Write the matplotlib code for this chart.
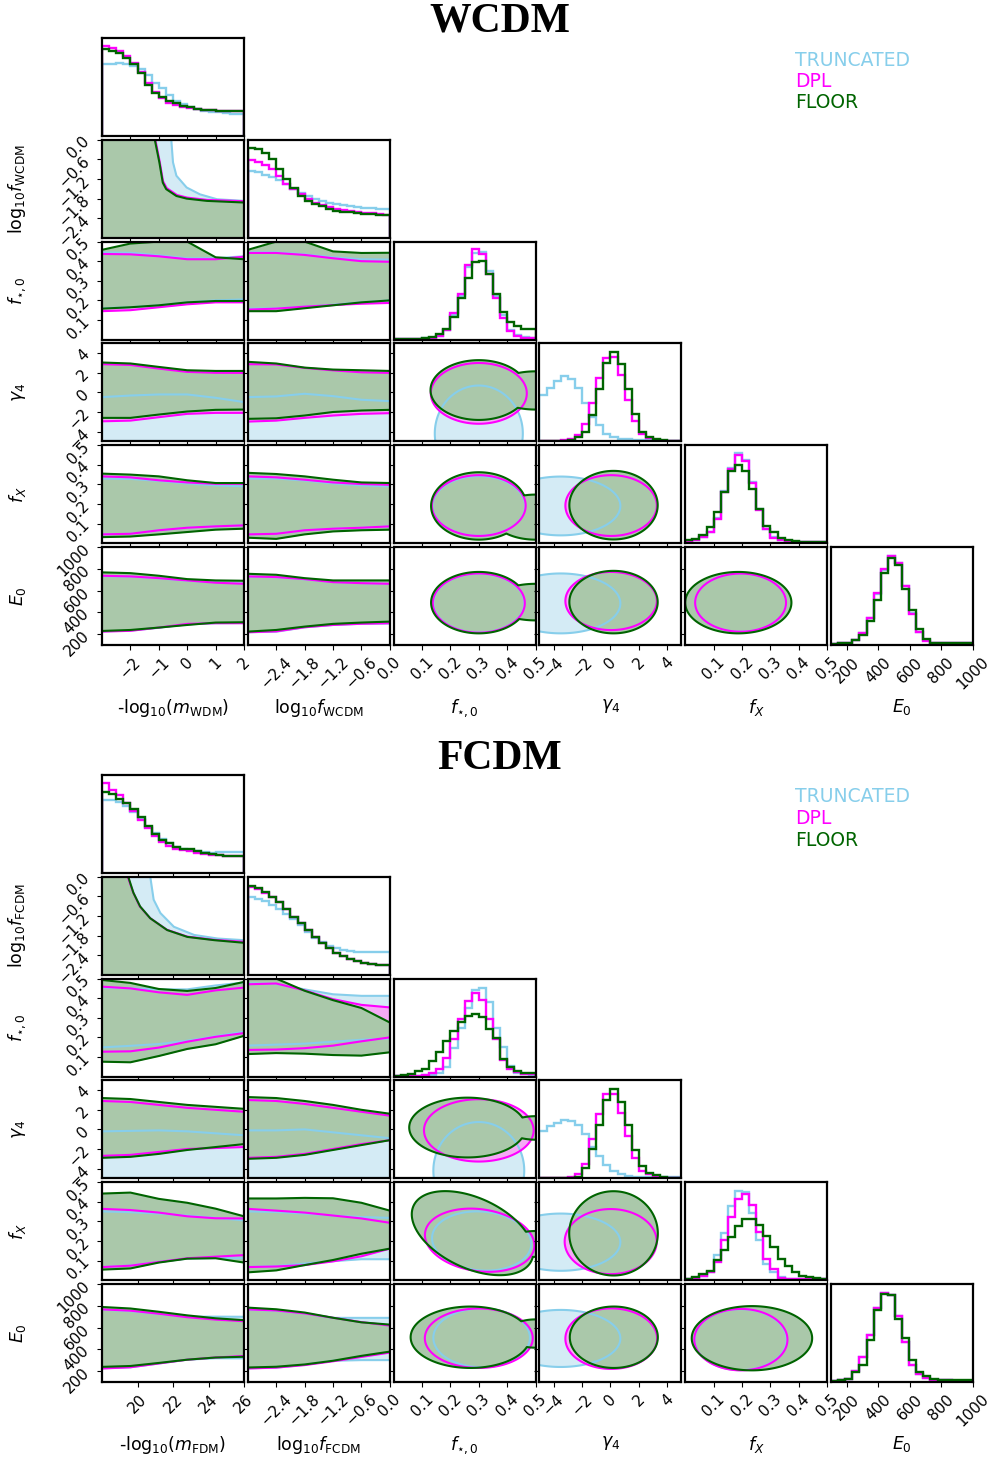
import numpy as np
import matplotlib
matplotlib.use('Agg')
import matplotlib.pyplot as plt

# ---- models (order: TRUNCATED, DPL, FLOOR) ----
MODELS = ['TRUNCATED', 'DPL', 'FLOOR']
LINE_COLORS = ['#87ceeb', '#ff00ff', '#006400']
FILL_COLORS = ['#d4ebf5', '#f5aaf5', '#aac8aa']

# ---- parameter axes ----
W_LABELS = ['-log$_{10}$($m_{\\rm WDM}$)', 'log$_{10}f_{\\rm WCDM}$', '$f_{\\star,0}$',
            '$\\gamma_4$', '$f_X$', '$E_0$']
F_LABELS = ['-log$_{10}$($m_{\\rm FDM}$)', 'log$_{10}f_{\\rm FCDM}$', '$f_{\\star,0}$',
            '$\\gamma_4$', '$f_X$', '$E_0$']
W_RANGES = [(-3, 2), (-3, 0), (0, 0.5), (-5, 5), (0, 0.5), (100, 1000)]
F_RANGES = [(18, 26), (-3, 0), (0, 0.5), (-5, 5), (0, 0.5), (100, 1000)]
W_TICKS = [[-2, -1, 0, 1, 2], [-2.4, -1.8, -1.2, -0.6, 0.0], [0.1, 0.2, 0.3, 0.4, 0.5],
           [-4, -2, 0, 2, 4], [0.1, 0.2, 0.3, 0.4, 0.5], [200, 400, 600, 800, 1000]]
F_TICKS = [[20, 22, 24, 26], [-2.4, -1.8, -1.2, -0.6, 0.0], [0.1, 0.2, 0.3, 0.4, 0.5],
           [-4, -2, 0, 2, 4], [0.1, 0.2, 0.3, 0.4, 0.5], [200, 400, 600, 800, 1000]]

# ---- 1D marginals (20 bins, height as fraction of panel) ----
W_HIST_M = [
    [0.73, 0.73, 0.74, 0.73, 0.71, 0.68, 0.62, 0.54, 0.49, 0.42, 0.36, 0.33, 0.30, 0.28, 0.26, 0.25, 0.24, 0.235, 0.225, 0.22],
    [0.915, 0.90, 0.87, 0.82, 0.74, 0.65, 0.54, 0.45, 0.39, 0.34, 0.32, 0.30, 0.29, 0.28, 0.27, 0.265, 0.26, 0.258, 0.255, 0.255],
    [0.89, 0.87, 0.85, 0.80, 0.73, 0.64, 0.52, 0.44, 0.40, 0.36, 0.34, 0.31, 0.30, 0.28, 0.27, 0.265, 0.26, 0.258, 0.255, 0.255]]
W_HIST_LOGF = [
    [0.68, 0.67, 0.64, 0.62, 0.59, 0.55, 0.50, 0.46, 0.43, 0.40, 0.38, 0.36, 0.34, 0.33, 0.32, 0.31, 0.30, 0.30, 0.29, 0.29],
    [0.79, 0.77, 0.74, 0.70, 0.63, 0.55, 0.50, 0.45, 0.40, 0.36, 0.33, 0.31, 0.29, 0.28, 0.27, 0.26, 0.255, 0.25, 0.24, 0.235],
    [0.92, 0.91, 0.87, 0.80, 0.70, 0.60, 0.51, 0.43, 0.38, 0.34, 0.32, 0.29, 0.27, 0.26, 0.26, 0.25, 0.245, 0.24, 0.235, 0.23]]
W_HIST_FSTAR = [
    [0.01, 0.01, 0.01, 0.01, 0.015, 0.02, 0.04, 0.10, 0.25, 0.44, 0.74, 0.88, 0.89, 0.70, 0.45, 0.25, 0.10, 0.05, 0.03, 0.02],
    [0.01, 0.01, 0.01, 0.01, 0.01, 0.02, 0.04, 0.10, 0.27, 0.47, 0.76, 0.92, 0.87, 0.67, 0.42, 0.22, 0.09, 0.04, 0.02, 0.02],
    [0.01, 0.01, 0.01, 0.01, 0.02, 0.03, 0.06, 0.11, 0.23, 0.42, 0.63, 0.79, 0.80, 0.67, 0.47, 0.28, 0.18, 0.14, 0.11, 0.11]]
W_HIST_GAMMA = [
    [0.47, 0.54, 0.62, 0.67, 0.64, 0.54, 0.39, 0.25, 0.17, 0.08, 0.04, 0.025, 0.02, 0.015, 0.01, 0.01, 0.01, 0.005, 0.005, 0.005],
    [0.005, 0.005, 0.005, 0.01, 0.02, 0.07, 0.18, 0.39, 0.65, 0.85, 0.86, 0.68, 0.42, 0.21, 0.08, 0.03, 0.01, 0.005, 0.005, 0.005],
    [0.005, 0.005, 0.005, 0.005, 0.01, 0.04, 0.10, 0.27, 0.53, 0.80, 0.91, 0.79, 0.53, 0.28, 0.10, 0.04, 0.02, 0.01, 0.005, 0.005]]
W_HIST_FX = [
    [0.02, 0.03, 0.06, 0.11, 0.26, 0.53, 0.77, 0.92, 0.85, 0.62, 0.35, 0.15, 0.06, 0.03, 0.02, 0.015, 0.01, 0.01, 0.01, 0.01],
    [0.02, 0.03, 0.06, 0.11, 0.25, 0.52, 0.76, 0.90, 0.84, 0.61, 0.34, 0.15, 0.05, 0.03, 0.02, 0.015, 0.01, 0.01, 0.01, 0.01],
    [0.03, 0.04, 0.08, 0.17, 0.32, 0.52, 0.74, 0.80, 0.74, 0.55, 0.35, 0.18, 0.11, 0.05, 0.03, 0.02, 0.015, 0.015, 0.015, 0.015]]
W_HIST_E0 = [
    [0.01, 0.02, 0.025, 0.05, 0.12, 0.28, 0.52, 0.77, 0.91, 0.84, 0.60, 0.33, 0.13, 0.05, 0.025, 0.02, 0.02, 0.02, 0.02, 0.02],
    [0.01, 0.02, 0.025, 0.05, 0.12, 0.28, 0.53, 0.78, 0.91, 0.84, 0.60, 0.32, 0.13, 0.04, 0.02, 0.02, 0.02, 0.02, 0.02, 0.02],
    [0.01, 0.02, 0.025, 0.05, 0.10, 0.25, 0.46, 0.73, 0.89, 0.82, 0.57, 0.36, 0.16, 0.06, 0.025, 0.02, 0.02, 0.02, 0.02, 0.02]]

F_HIST_M = [
    [0.75, 0.75, 0.72, 0.68, 0.62, 0.55, 0.47, 0.41, 0.35, 0.31, 0.27, 0.25, 0.23, 0.22, 0.21, 0.20, 0.21, 0.21, 0.21, 0.21],
    [0.92, 0.85, 0.80, 0.71, 0.63, 0.54, 0.46, 0.38, 0.32, 0.28, 0.24, 0.23, 0.22, 0.20, 0.19, 0.18, 0.18, 0.17, 0.17, 0.17],
    [0.83, 0.81, 0.76, 0.71, 0.65, 0.57, 0.48, 0.40, 0.34, 0.31, 0.27, 0.25, 0.24, 0.22, 0.20, 0.19, 0.18, 0.17, 0.17, 0.17]]
F_HIST_LOGF = [
    [0.79, 0.77, 0.75, 0.71, 0.67, 0.62, 0.57, 0.51, 0.44, 0.38, 0.33, 0.29, 0.27, 0.25, 0.24, 0.23, 0.23, 0.23, 0.23, 0.23],
    [0.90, 0.88, 0.83, 0.79, 0.74, 0.67, 0.59, 0.53, 0.46, 0.39, 0.32, 0.27, 0.22, 0.19, 0.16, 0.14, 0.12, 0.11, 0.10, 0.095],
    [0.91, 0.89, 0.84, 0.79, 0.74, 0.67, 0.59, 0.53, 0.46, 0.39, 0.32, 0.27, 0.22, 0.19, 0.16, 0.14, 0.12, 0.11, 0.10, 0.10]]
F_HIST_FSTAR = [
    [0.005, 0.005, 0.01, 0.01, 0.015, 0.02, 0.035, 0.10, 0.29, 0.50, 0.70, 0.88, 0.90, 0.76, 0.50, 0.30, 0.11, 0.04, 0.025, 0.02],
    [0.005, 0.01, 0.01, 0.01, 0.02, 0.04, 0.08, 0.19, 0.38, 0.59, 0.77, 0.85, 0.78, 0.59, 0.38, 0.17, 0.08, 0.05, 0.03, 0.025],
    [0.01, 0.02, 0.03, 0.06, 0.08, 0.16, 0.25, 0.36, 0.47, 0.56, 0.62, 0.64, 0.61, 0.49, 0.39, 0.18, 0.10, 0.06, 0.04, 0.035]]
F_HIST_GAMMA = [
    [0.48, 0.53, 0.57, 0.60, 0.59, 0.55, 0.45, 0.32, 0.23, 0.14, 0.08, 0.04, 0.025, 0.015, 0.015, 0.015, 0.01, 0.01, 0.01, 0.01],
    [0.005, 0.005, 0.005, 0.005, 0.01, 0.04, 0.15, 0.40, 0.66, 0.86, 0.86, 0.67, 0.43, 0.21, 0.08, 0.04, 0.01, 0.005, 0.005, 0.005],
    [0.005, 0.005, 0.005, 0.005, 0.005, 0.015, 0.11, 0.30, 0.55, 0.80, 0.91, 0.78, 0.55, 0.29, 0.13, 0.06, 0.03, 0.01, 0.005, 0.005]]
F_HIST_FX = [
    [0.01, 0.02, 0.04, 0.08, 0.26, 0.48, 0.76, 0.91, 0.90, 0.69, 0.41, 0.17, 0.08, 0.03, 0.015, 0.015, 0.01, 0.01, 0.01, 0.01],
    [0.01, 0.02, 0.04, 0.08, 0.19, 0.41, 0.65, 0.83, 0.88, 0.77, 0.49, 0.22, 0.11, 0.025, 0.015, 0.015, 0.01, 0.01, 0.01, 0.01],
    [0.015, 0.035, 0.06, 0.09, 0.21, 0.31, 0.44, 0.55, 0.62, 0.62, 0.56, 0.45, 0.34, 0.22, 0.14, 0.08, 0.04, 0.03, 0.02, 0.015]]
F_HIST_E0 = [
    [0.01, 0.02, 0.03, 0.11, 0.26, 0.48, 0.76, 0.91, 0.89, 0.67, 0.41, 0.17, 0.08, 0.04, 0.025, 0.02, 0.02, 0.015, 0.015, 0.015],
    [0.01, 0.02, 0.03, 0.11, 0.26, 0.48, 0.76, 0.91, 0.89, 0.67, 0.41, 0.17, 0.08, 0.04, 0.025, 0.02, 0.02, 0.015, 0.015, 0.015],
    [0.015, 0.02, 0.035, 0.10, 0.17, 0.43, 0.73, 0.90, 0.89, 0.64, 0.45, 0.22, 0.10, 0.06, 0.035, 0.02, 0.02, 0.02, 0.02, 0.02]]

# ---- 2D contours against the dark-matter parameters: [lower, upper] at knots ----
W_KNOTS_M = [-3, -2, -1, 0, 1, 2]
F_KNOTS_M = [18, 19.6, 21.2, 22.8, 24.4, 26]
KNOTS_LOGF = [-3, -2.4, -1.8, -1.2, -0.6, 0]

W_BAND_FSTAR_M = [
    [[0.16, 0.165, 0.175, 0.19, 0.2, 0.205], [0.445, 0.443, 0.43, 0.415, 0.415, 0.425]],
    [[0.145, 0.15, 0.165, 0.18, 0.19, 0.19], [0.437, 0.435, 0.425, 0.41, 0.41, 0.423]],
    [[0.158, 0.165, 0.175, 0.19, 0.197, 0.197], [0.458, 0.49, 0.5, 0.5, 0.42, 0.41]]]
W_BAND_GAMMA_M = [
    [[-5, -5, -5, -5, -5, -5], [-0.48, -0.32, -0.21, -0.21, -0.55, -0.99]],
    [[-2.95, -2.88, -2.53, -2.19, -2.09, -2.09], [2.88, 2.8, 2.43, 2.09, 2.0, 1.99]],
    [[-2.6, -2.6, -2.26, -1.95, -1.78, -1.75], [3.05, 2.95, 2.6, 2.26, 2.19, 2.19]]]
W_BAND_FX_M = [
    [[0.045, 0.048, 0.066, 0.079, 0.086, 0.091], [0.33, 0.328, 0.318, 0.305, 0.295, 0.29]],
    [[0.045, 0.048, 0.066, 0.079, 0.086, 0.091], [0.341, 0.336, 0.321, 0.31, 0.303, 0.303]],
    [[0.031, 0.034, 0.045, 0.057, 0.069, 0.074], [0.355, 0.35, 0.341, 0.321, 0.307, 0.307]]]
W_BAND_E0_M = [
    [[225, 232, 258, 290, 300, 302], [733, 728, 712, 690, 675, 665]],
    [[223, 230, 260, 294, 300, 300], [736, 730, 714, 693, 672, 662]],
    [[229, 238, 260, 284, 306, 309], [767, 760, 736, 705, 693, 690]]]
W_BAND_FSTAR_F = [
    [[0.158, 0.16, 0.168, 0.178, 0.19, 0.2], [0.445, 0.445, 0.435, 0.42, 0.41, 0.408]],
    [[0.153, 0.158, 0.168, 0.176, 0.183, 0.187], [0.442, 0.442, 0.432, 0.415, 0.4, 0.397]],
    [[0.145, 0.145, 0.16, 0.175, 0.19, 0.2], [0.458, 0.5, 0.5, 0.45, 0.442, 0.443]]]
W_BAND_GAMMA_F = [
    [[-5, -5, -5, -5, -5, -5], [-0.48, -0.41, -0.14, -0.38, -0.75, -0.89]],
    [[-2.98, -2.88, -2.6, -2.36, -2.19, -2.12], [2.88, 2.85, 2.5, 2.25, 2.05, 1.99]],
    [[-2.7, -2.64, -2.36, -2.0, -1.85, -1.78], [3.12, 2.95, 2.53, 2.33, 2.26, 2.19]]]
W_BAND_FX_F = [
    [[0.045, 0.048, 0.066, 0.074, 0.079, 0.086], [0.33, 0.33, 0.32, 0.305, 0.295, 0.29]],
    [[0.045, 0.048, 0.066, 0.074, 0.079, 0.086], [0.341, 0.336, 0.324, 0.31, 0.302, 0.298]],
    [[0.028, 0.022, 0.045, 0.06, 0.066, 0.069], [0.359, 0.353, 0.341, 0.324, 0.31, 0.307]]]
W_BAND_E0_F = [
    [[217, 222, 262, 284, 295, 297], [728, 722, 703, 678, 668, 660]],
    [[217, 225, 263, 284, 295, 300], [730, 724, 705, 677, 668, 662]],
    [[223, 238, 269, 294, 306, 315], [754, 745, 714, 693, 693, 693]]]

F_BAND_FSTAR_M = [
    [[0.149, 0.157, 0.166, 0.183, 0.206, 0.229], [0.454, 0.45, 0.445, 0.445, 0.465, 0.48]],
    [[0.127, 0.129, 0.148, 0.178, 0.203, 0.222], [0.459, 0.45, 0.43, 0.417, 0.44, 0.454]],
    [[0.076, 0.073, 0.105, 0.141, 0.165, 0.208], [0.493, 0.478, 0.447, 0.437, 0.452, 0.483]]]
F_BAND_GAMMA_M = [
    [[-5, -5, -5, -5, -5, -5], [-0.2, -0.15, -0.1, -0.2, -0.4, -0.6]],
    [[-2.7, -2.6, -2.3, -2.0, -1.9, -1.8], [2.9, 2.8, 2.5, 2.2, 2.0, 1.8]],
    [[-2.9, -2.8, -2.5, -2.1, -1.8, -1.5], [3.2, 3.1, 2.8, 2.5, 2.3, 2.1]]]
F_BAND_FX_M = [
    [[0.067, 0.075, 0.093, 0.11, 0.113, 0.112], [0.351, 0.347, 0.34, 0.33, 0.318, 0.305]],
    [[0.067, 0.074, 0.093, 0.112, 0.12, 0.128], [0.364, 0.358, 0.345, 0.326, 0.316, 0.315]],
    [[0.054, 0.06, 0.09, 0.11, 0.112, 0.09], [0.442, 0.447, 0.415, 0.395, 0.365, 0.326]]]
F_BAND_E0_M = [
    [[226, 235, 270, 305, 318, 317], [765, 750, 725, 700, 700, 699]],
    [[224, 235, 270, 305, 325, 339], [767, 755, 727, 695, 673, 658]],
    [[239, 247, 275, 305, 325, 332], [789, 775, 745, 712, 685, 668]]]
F_BAND_FSTAR_F = [
    [[0.158, 0.163, 0.168, 0.178, 0.188, 0.195], [0.476, 0.473, 0.445, 0.42, 0.412, 0.412]],
    [[0.136, 0.138, 0.145, 0.158, 0.18, 0.2], [0.471, 0.475, 0.44, 0.395, 0.366, 0.353]],
    [[0.115, 0.12, 0.117, 0.11, 0.107, 0.124], [0.5, 0.5, 0.438, 0.39, 0.35, 0.276]]]
F_BAND_GAMMA_F = [
    [[-5, -5, -5, -5, -5, -5], [-0.1, -0.1, 0.0, -0.3, -0.6, -0.9]],
    [[-2.9, -2.8, -2.5, -2.0, -1.5, -1.1], [3.0, 2.9, 2.6, 2.2, 1.8, 1.4]],
    [[-3.0, -2.9, -2.6, -2.1, -1.6, -1.1], [3.3, 3.2, 2.9, 2.5, 2.0, 1.6]]]
F_BAND_FX_F = [
    [[0.067, 0.072, 0.085, 0.097, 0.107, 0.107], [0.351, 0.348, 0.34, 0.33, 0.322, 0.318]],
    [[0.067, 0.07, 0.077, 0.096, 0.122, 0.161], [0.364, 0.355, 0.345, 0.33, 0.315, 0.293]],
    [[0.04, 0.05, 0.077, 0.103, 0.135, 0.161], [0.417, 0.417, 0.42, 0.418, 0.395, 0.355]]]
F_BAND_E0_F = [
    [[226, 232, 258, 295, 301, 301], [765, 755, 730, 689, 689, 689]],
    [[224, 232, 255, 290, 330, 370], [767, 757, 730, 690, 650, 618]],
    [[233, 240, 261, 295, 340, 379], [783, 768, 738, 690, 648, 627]]]

# ---- log f vs mass: upper edge of the allowed region ----
W_EDGE_X = [[-3, -0.56, -0.5, -0.38, -0.02, 0.45, 1.05, 2],
            [-3, -1.12, -0.97, -0.85, -0.72, -0.36, 0.0, 0.7, 2],
            [-3, -1.14, -0.98, -0.86, -0.74, -0.38, -0.02, 0.69, 2]]
W_EDGE_Y = [[0, 0, -0.69, -1.1, -1.46, -1.67, -1.82, -1.87],
            [0, 0, -0.66, -1.27, -1.48, -1.69, -1.77, -1.84, -1.88],
            [0, 0, -0.69, -1.31, -1.51, -1.72, -1.80, -1.87, -1.92]]
F_EDGE_X = [[18, 20.72, 20.91, 21.29, 22.05, 23.19, 24.52, 26],
            [18, 19.45, 19.75, 20.12, 20.7, 21.65, 22.8, 24.3, 26],
            [18, 19.48, 19.77, 20.15, 20.72, 21.67, 22.81, 24.33, 26]]
F_EDGE_Y = [[0, 0, -0.70, -1.11, -1.53, -1.78, -1.89, -1.94],
            [0, 0, -0.47, -0.9, -1.26, -1.62, -1.83, -1.93, -1.99],
            [0, 0, -0.49, -0.91, -1.27, -1.63, -1.84, -1.94, -2.02]]

# ---- astrophysical 2D contours: (cx, cy, rx, ry, tilt_deg) per lobe ----
W_BLOB_GAMMA_FSTAR = [[(0.30, -4.2, 0.155, 4.9, 0)],
                      [(0.30, -0.1, 0.169, 3.1, 0)],
                      [(0.30, 0.24, 0.17, 3.05, 0), (0.5, 0.2, 0.15, 1.95, 0)]]
W_BLOB_FX_FSTAR = [[(0.30, 0.19, 0.163, 0.152, 0)],
                   [(0.30, 0.192, 0.165, 0.155, 0)],
                   [(0.30, 0.19, 0.168, 0.172, 0), (0.5, 0.133, 0.15, 0.115, 0)]]
W_BLOB_E0_FSTAR = [[(0.30, 485, 0.16, 270, 0)],
                   [(0.30, 485, 0.162, 272, 0)],
                   [(0.30, 489, 0.168, 282, 0), (0.5, 494, 0.15, 168, 0)]]
W_BLOB_FX_GAMMA = [[(-3.5, 0.19, 4.2, 0.15, 0)],
                   [(0.05, 0.192, 3.22, 0.155, 0)],
                   [(0.22, 0.194, 3.11, 0.175, 0)]]
W_BLOB_E0_GAMMA = [[(-3.5, 482, 4.2, 275, 0)],
                   [(0.05, 504, 3.22, 267, 0)],
                   [(0.22, 494, 3.11, 287, 0)]]
W_BLOB_E0_FX = [[(0.195, 489, 0.16, 267, 0)],
                [(0.195, 489, 0.16, 267, 0)],
                [(0.187, 489, 0.187, 282, 0)]]

F_BLOB_GAMMA_FSTAR = [[(0.30, -4.2, 0.16, 4.95, 0)],
                      [(0.30, -0.1, 0.193, 3.18, 0)],
                      [(0.26, 0.19, 0.205, 3.05, 0), (0.5, 0.15, 0.1, 1.2, 0)]]
F_BLOB_FX_FSTAR = [[(0.31, 0.2, 0.175, 0.15, -5)],
                   [(0.303, 0.204, 0.194, 0.158, -8)],
                   [(0.278, 0.24, 0.229, 0.179, -25), (0.5, 0.185, 0.1, 0.066, 0)]]
F_BLOB_E0_FSTAR = [[(0.31, 506, 0.17, 270, 0)],
                   [(0.30, 502, 0.19, 273, 0)],
                   [(0.27, 511, 0.21, 282, 0), (0.5, 545, 0.1, 130, 0)]]
F_BLOB_FX_GAMMA = [[(-3.5, 0.194, 4.2, 0.146, 0)],
                   [(0.02, 0.197, 3.24, 0.166, 0)],
                   [(0.22, 0.239, 3.12, 0.215, 0)]]
F_BLOB_E0_GAMMA = [[(-3.5, 500, 4.2, 262, 0)],
                   [(0.06, 498, 3.23, 278, 0)],
                   [(0.24, 511, 3.1, 282, 0)]]
F_BLOB_E0_FX = [[(0.195, 489, 0.162, 280, 0)],
                [(0.196, 489, 0.164, 282, 0)],
                [(0.235, 502, 0.212, 295, 0)]]

W_HISTS = [W_HIST_M, W_HIST_LOGF, W_HIST_FSTAR, W_HIST_GAMMA, W_HIST_FX, W_HIST_E0]
F_HISTS = [F_HIST_M, F_HIST_LOGF, F_HIST_FSTAR, F_HIST_GAMMA, F_HIST_FX, F_HIST_E0]
W_BANDS = {(2, 0): W_BAND_FSTAR_M, (3, 0): W_BAND_GAMMA_M, (4, 0): W_BAND_FX_M, (5, 0): W_BAND_E0_M,
           (2, 1): W_BAND_FSTAR_F, (3, 1): W_BAND_GAMMA_F, (4, 1): W_BAND_FX_F, (5, 1): W_BAND_E0_F}
F_BANDS = {(2, 0): F_BAND_FSTAR_M, (3, 0): F_BAND_GAMMA_M, (4, 0): F_BAND_FX_M, (5, 0): F_BAND_E0_M,
           (2, 1): F_BAND_FSTAR_F, (3, 1): F_BAND_GAMMA_F, (4, 1): F_BAND_FX_F, (5, 1): F_BAND_E0_F}
W_BLOBS = {(3, 2): W_BLOB_GAMMA_FSTAR, (4, 2): W_BLOB_FX_FSTAR, (5, 2): W_BLOB_E0_FSTAR,
           (4, 3): W_BLOB_FX_GAMMA, (5, 3): W_BLOB_E0_GAMMA, (5, 4): W_BLOB_E0_FX}
F_BLOBS = {(3, 2): F_BLOB_GAMMA_FSTAR, (4, 2): F_BLOB_FX_FSTAR, (5, 2): F_BLOB_E0_FSTAR,
           (4, 3): F_BLOB_FX_GAMMA, (5, 3): F_BLOB_E0_GAMMA, (5, 4): F_BLOB_E0_FX}

# ---- layout in pixels ----
FIG_W, FIG_H = 990, 1459
AX_W, AX_H = 142, 98
LEFT0, COL_STEP, ROW_STEP = 102, 145.8, 101.8
LW = 1.5


def panel(fig, top, i, j):
    left = LEFT0 + j * COL_STEP
    y0 = top + i * ROW_STEP
    return fig.add_axes([left / FIG_W, 1 - (y0 + AX_H) / FIG_H, AX_W / FIG_W, AX_H / FIG_H])


def draw_blob(ax, lobes_per_model, xr, yr):
    x = np.linspace(xr[0], xr[1], 400)
    y = np.linspace(yr[0], yr[1], 400)
    X, Y = np.meshgrid(x, y)
    fields = []
    for lobes in lobes_per_model:
        field = np.full(X.shape, np.inf)
        for cx, cy, rx, ry, tilt in lobes:
            u = (X - cx) / (xr[1] - xr[0]) * AX_W
            v = (Y - cy) / (yr[1] - yr[0]) * AX_H
            a = rx / (xr[1] - xr[0]) * AX_W
            b = ry / (yr[1] - yr[0]) * AX_H
            t = np.deg2rad(tilt)
            up = u * np.cos(t) + v * np.sin(t)
            vp = -u * np.sin(t) + v * np.cos(t)
            field = np.minimum(field, (up / a) ** 2 + (vp / b) ** 2)
        fields.append(field)
    for k, field in enumerate(fields):
        ax.contourf(X, Y, field, levels=[0, 1], colors=[FILL_COLORS[k]], zorder=1)
    for k, field in enumerate(fields):
        ax.contour(X, Y, field, levels=[1], colors=[LINE_COLORS[k]], linewidths=LW, zorder=2)


def draw_corner(fig, top, title, labels, ranges, ticks, hists, bands, knots_m, edge_x, edge_y, blobs):
    n = 6
    for i in range(n):
        for j in range(i + 1):
            ax = panel(fig, top, i, j)
            ax.set_xlim(ranges[j])
            ax.set_xticks(ticks[j])
            if i == j:
                edges = np.linspace(ranges[j][0], ranges[j][1], len(hists[j][0]) + 1)
                for k in range(3):
                    ax.stairs(hists[j][k], edges, color=LINE_COLORS[k], lw=1.7)
                ax.set_ylim(0, 1)
                ax.set_yticks([])
            else:
                ax.set_ylim(ranges[i])
                ax.set_yticks(ticks[i])
                if (i, j) == (1, 0):
                    for k in range(3):
                        ax.fill_between(edge_x[k], edge_y[k], ranges[1][0], color=FILL_COLORS[k], lw=0, zorder=1)
                    for k in range(3):
                        ax.plot(edge_x[k], edge_y[k], color=LINE_COLORS[k], lw=LW, zorder=2)
                elif j < 2:
                    kx = knots_m if j == 0 else KNOTS_LOGF
                    for k, (lo, hi) in enumerate(bands[(i, j)]):
                        ax.fill_between(kx, lo, hi, color=FILL_COLORS[k], lw=0, zorder=1)
                    for k, (lo, hi) in enumerate(bands[(i, j)]):
                        ax.plot(kx, lo, color=LINE_COLORS[k], lw=LW, zorder=2)
                        ax.plot(kx, hi, color=LINE_COLORS[k], lw=LW, zorder=2)
                else:
                    draw_blob(ax, blobs[(i, j)], ranges[j], ranges[i])
            for s in ax.spines.values():
                s.set_linewidth(1.6)
            ax.tick_params(labelsize=11)
            if i == n - 1:
                ax.tick_params(axis='x', labelrotation=45)
                ax.set_xlabel(labels[j], fontsize=12.5)
                ax.xaxis.set_label_coords(0.5, -0.53)
            else:
                ax.set_xticklabels([])
            if j == 0 and i > 0:
                ax.tick_params(axis='y', labelrotation=45)
                ax.set_ylabel(labels[i], fontsize=12.5)
                ax.yaxis.set_label_coords(-0.52, 0.5)
            elif i != j:
                ax.set_yticklabels([])
    fig.text(0.505, 1 - (top - 16) / FIG_H, title, ha='center', va='center',
             fontsize=30, fontweight='bold', family='Liberation Serif')
    for k, name in enumerate(MODELS):
        fig.text(795 / FIG_W, 1 - (top + 22 + 21.5 * k) / FIG_H, name, color=LINE_COLORS[k],
                 fontsize=13.5, va='center', ha='left')


fig = plt.figure(figsize=(FIG_W / 100, FIG_H / 100), dpi=100)
draw_corner(fig, 38, 'WCDM', W_LABELS, W_RANGES, W_TICKS, W_HISTS, W_BANDS, W_KNOTS_M,
            W_EDGE_X, W_EDGE_Y, W_BLOBS)
draw_corner(fig, 775, 'FCDM', F_LABELS, F_RANGES, F_TICKS, F_HISTS, F_BANDS, F_KNOTS_M,
            F_EDGE_X, F_EDGE_Y, F_BLOBS)
fig.savefig('out.png', dpi=100)
